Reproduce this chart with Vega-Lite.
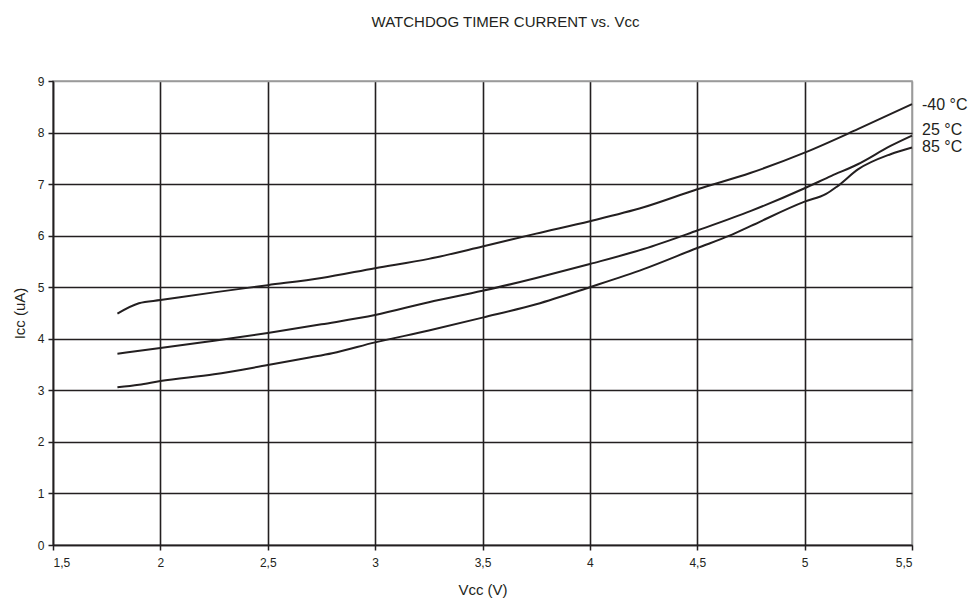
{
  "$schema": "https://vega.github.io/schema/vega-lite/v6.json",
  "width": 859,
  "height": 464,
  "autosize": "none",
  "padding": {"left": 53, "top": 81, "right": 63, "bottom": 57},
  "background": "white",
  "config": {
    "font": "Liberation Sans",
    "view": {"stroke": "#9a9a9a", "strokeWidth": 1.5}
  },
  "title": {
    "text": "WATCHDOG TIMER CURRENT vs. Vᴄᴄ",
    "font": "Liberation Sans",
    "fontSize": 15,
    "fontWeight": "normal",
    "color": "#231f20",
    "anchor": "middle",
    "baseline": "bottom",
    "offset": 30,
    "dx": 23
  },
  "datasets": {
    "curves": [
      {"t": "-40", "v": 1.8, "i": 4.49},
      {"t": "-40", "v": 1.9, "i": 4.69},
      {"t": "-40", "v": 2.0, "i": 4.75},
      {"t": "-40", "v": 2.25, "i": 4.9},
      {"t": "-40", "v": 2.5, "i": 5.04},
      {"t": "-40", "v": 2.75, "i": 5.18},
      {"t": "-40", "v": 3.0, "i": 5.37},
      {"t": "-40", "v": 3.25, "i": 5.55},
      {"t": "-40", "v": 3.5, "i": 5.79},
      {"t": "-40", "v": 3.75, "i": 6.04},
      {"t": "-40", "v": 4.0, "i": 6.28},
      {"t": "-40", "v": 4.25, "i": 6.55},
      {"t": "-40", "v": 4.5, "i": 6.9},
      {"t": "-40", "v": 4.75, "i": 7.22},
      {"t": "-40", "v": 5.0, "i": 7.61},
      {"t": "-40", "v": 5.25, "i": 8.07},
      {"t": "-40", "v": 5.5, "i": 8.55},
      {"t": "25", "v": 1.8, "i": 3.71},
      {"t": "25", "v": 2.0, "i": 3.82},
      {"t": "25", "v": 2.25, "i": 3.96},
      {"t": "25", "v": 2.5, "i": 4.11},
      {"t": "25", "v": 2.75, "i": 4.28},
      {"t": "25", "v": 3.0, "i": 4.46},
      {"t": "25", "v": 3.25, "i": 4.71},
      {"t": "25", "v": 3.5, "i": 4.93},
      {"t": "25", "v": 3.75, "i": 5.18},
      {"t": "25", "v": 4.0, "i": 5.45},
      {"t": "25", "v": 4.25, "i": 5.74},
      {"t": "25", "v": 4.5, "i": 6.1},
      {"t": "25", "v": 4.75, "i": 6.48},
      {"t": "25", "v": 5.0, "i": 6.92},
      {"t": "25", "v": 5.125, "i": 7.16},
      {"t": "25", "v": 5.25, "i": 7.39},
      {"t": "25", "v": 5.4, "i": 7.74},
      {"t": "25", "v": 5.5, "i": 7.94},
      {"t": "85", "v": 1.8, "i": 3.06},
      {"t": "85", "v": 1.9, "i": 3.11},
      {"t": "85", "v": 2.0, "i": 3.18},
      {"t": "85", "v": 2.25, "i": 3.31},
      {"t": "85", "v": 2.5, "i": 3.49},
      {"t": "85", "v": 2.7, "i": 3.64},
      {"t": "85", "v": 2.8, "i": 3.72},
      {"t": "85", "v": 3.0, "i": 3.93},
      {"t": "85", "v": 3.25, "i": 4.16},
      {"t": "85", "v": 3.5, "i": 4.41},
      {"t": "85", "v": 3.75, "i": 4.67},
      {"t": "85", "v": 4.0, "i": 5.0},
      {"t": "85", "v": 4.25, "i": 5.35},
      {"t": "85", "v": 4.5, "i": 5.76},
      {"t": "85", "v": 4.65, "i": 6.0},
      {"t": "85", "v": 4.75, "i": 6.19},
      {"t": "85", "v": 5.0, "i": 6.66},
      {"t": "85", "v": 5.1, "i": 6.81},
      {"t": "85", "v": 5.15, "i": 6.95},
      {"t": "85", "v": 5.25, "i": 7.29},
      {"t": "85", "v": 5.4, "i": 7.58},
      {"t": "85", "v": 5.5, "i": 7.71}
    ],
    "labels": [
      {"label": "-40 °C", "v": 5.5, "i": 8.53},
      {"label": "25 °C", "v": 5.5, "i": 8.05},
      {"label": "85 °C", "v": 5.5, "i": 7.72}
    ]
  },
  "layer": [
    {
      "data": {"name": "curves"},
      "mark": {"type": "line", "interpolate": "monotone", "color": "#231f20", "strokeWidth": 2},
      "encoding": {
        "x": {
          "field": "v",
          "type": "quantitative",
          "scale": {"domain": [1.5, 5.5], "nice": false, "zero": false},
          "axis": {
            "values": [1.5, 2, 2.5, 3, 3.5, 4, 4.5, 5, 5.5],
            "labelExpr": "replace(format(datum.value, '~g'), '.', ',')",
            "title": "Vᴄᴄ (V)",
            "titleFont": "Liberation Sans",
            "titleFontSize": 15,
            "titleFontWeight": "normal",
            "titleColor": "#231f20",
            "titlePadding": 14,
            "labelFont": "Liberation Sans",
            "labelFontSize": 12,
            "labelColor": "#231f20",
            "labelPadding": 7,
            "tickSize": 5,
            "tickColor": "#231f20",
            "tickWidth": 1.5,
            "domainColor": "#231f20",
            "domainWidth": 1.5,
            "grid": true,
            "gridColor": {"condition": {"test": "datum.value >= 5.5", "value": "#9a9a9a"}, "value": "#231f20"},
            "gridWidth": 1.6,
            "gridOpacity": 1
          }
        },
        "y": {
          "field": "i",
          "type": "quantitative",
          "scale": {"domain": [0, 9], "nice": false},
          "axis": {
            "values": [0, 1, 2, 3, 4, 5, 6, 7, 8, 9],
            "title": "Iᴄᴄ (uA)",
            "titleFont": "Liberation Sans",
            "titleFontSize": 15,
            "titleFontWeight": "normal",
            "titleColor": "#231f20",
            "titlePadding": 10,
            "labelFont": "Liberation Sans",
            "labelFontSize": 12,
            "labelColor": "#231f20",
            "labelPadding": 4,
            "tickSize": 5,
            "tickColor": "#231f20",
            "tickWidth": 1.5,
            "domainColor": "#231f20",
            "domainWidth": 1.5,
            "grid": true,
            "gridColor": {"condition": {"test": "datum.value >= 9", "value": "#9a9a9a"}, "value": "#231f20"},
            "gridWidth": 1.6,
            "gridOpacity": 1
          }
        },
        "detail": {"field": "t", "type": "nominal"}
      }
    },
    {
      "data": {"name": "labels"},
      "mark": {"type": "text", "align": "left", "baseline": "middle", "dx": 10, "font": "Liberation Sans", "fontSize": 16, "color": "#231f20"},
      "encoding": {
        "x": {"field": "v", "type": "quantitative"},
        "y": {"field": "i", "type": "quantitative"},
        "text": {"field": "label", "type": "nominal"}
      }
    }
  ]
}
